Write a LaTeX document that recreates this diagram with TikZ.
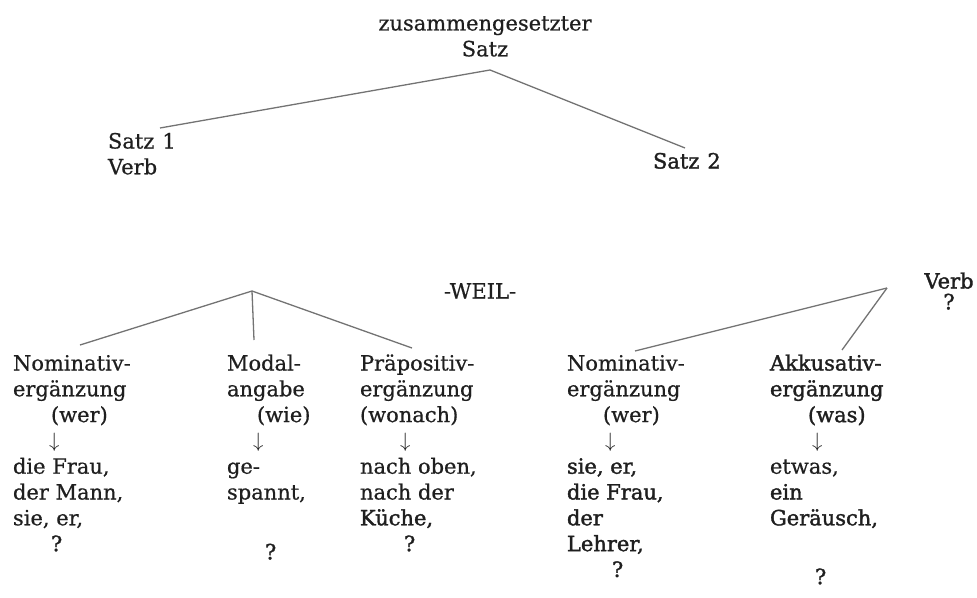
\documentclass[tikz,border=0pt]{standalone}
\usepackage{fontspec}
\setmainfont{DejaVu Serif}[FakeBold=0.6]
\newfontfamily\heavyfont{DejaVu Serif}[FakeBold=1.6]
\newcommand\firstln{\rule{0pt}{17.5pt}}
\begin{document}
\begin{tikzpicture}[x=1pt,y=-1pt,
  txt/.style={inner sep=0pt,outer sep=0pt,anchor=north west,align=left,
    text=black!88,font=\fontsize{21}{25.8}\selectfont},
  conn/.style={draw=black!55,line width=1.3pt}]
\useasboundingbox (0,0) rectangle (977,597);

% top level
\node[txt,anchor=north,align=center] (top) at (485,13) {\firstln zusammengesetzter\\Satz};
\node[txt] (s1) at (108,131) {\firstln Satz\hspace{8pt}1\\Verb};
\node[txt,font=\fontsize{21}{25.8}\heavyfont] (s2) at (653,151) {\firstln Satz\hspace{8pt}2};

\coordinate (T) at (490,70);
\coordinate (s1e) at (160,128);
\coordinate (s2e) at (685,148);
\draw[conn] (s1e) -- (T) -- (s2e);

% second level
\node[txt,anchor=north] (weil) at (480,281) {\firstln -WEIL-};
\node[txt,anchor=north,align=center,font=\fontsize{21}{25.8}\heavyfont] (verb) at (949,271) {\firstln Verb\\[-5pt]?};

\node[txt] (c1) at (13,353) {\firstln Nominativ-\\ergänzung\\\hspace*{38pt}(wer)\\\hspace*{36pt}$\downarrow$\\die Frau,\\der Mann,\\sie, er,\\\hspace*{38pt}{\heavyfont ?}};
\node[txt] (c2) at (227,353) {\firstln Modal-\\angabe\\\hspace*{30pt}(wie)\\\hspace*{26pt}$\downarrow$\\ge-\\spannt,\\[34pt]\hspace*{38pt}{\heavyfont ?}};
\node[txt] (c3) at (360,353) {\firstln Präpositiv-\\ergänzung\\(wonach)\\\hspace*{40pt}$\downarrow$\\nach oben,\\nach der\\{\heavyfont Küche,}\\\hspace*{44pt}{\heavyfont ?}};
\node[txt] (c4) at (567,353) {\firstln Nominativ-\\ergänzung\\\hspace*{36pt}(wer)\\\hspace*{38pt}$\downarrow$\\{\heavyfont sie, er,}\\{\heavyfont die Frau,}\\{\heavyfont der}\\{\heavyfont Lehrer,}\\\hspace*{45pt}{\heavyfont ?}};
\node[txt,font=\fontsize{21}{25.8}\heavyfont] (c5) at (770,353) {\firstln Akkusativ-\\ergänzung\\\hspace*{38pt}(was)\\\hspace*{42pt}$\downarrow$\\{\rmfamily etwas,}\\ein\\Geräusch,\\[33pt]\hspace*{45pt}?};

\coordinate (L) at (252,291);
\coordinate (c1e) at (80,345);
\coordinate (c2e) at (254,340);
\coordinate (c3e) at (412,348);
\draw[conn] (L) -- (c1e);
\draw[conn] (L) -- (c2e);
\draw[conn] (L) -- (c3e);

\coordinate (R) at (887,288);
\coordinate (c4e) at (635,351);
\coordinate (c5e) at (842,350);
\draw[conn] (R) -- (c4e);
\draw[conn] (R) -- (c5e);
\end{tikzpicture}
\end{document}
